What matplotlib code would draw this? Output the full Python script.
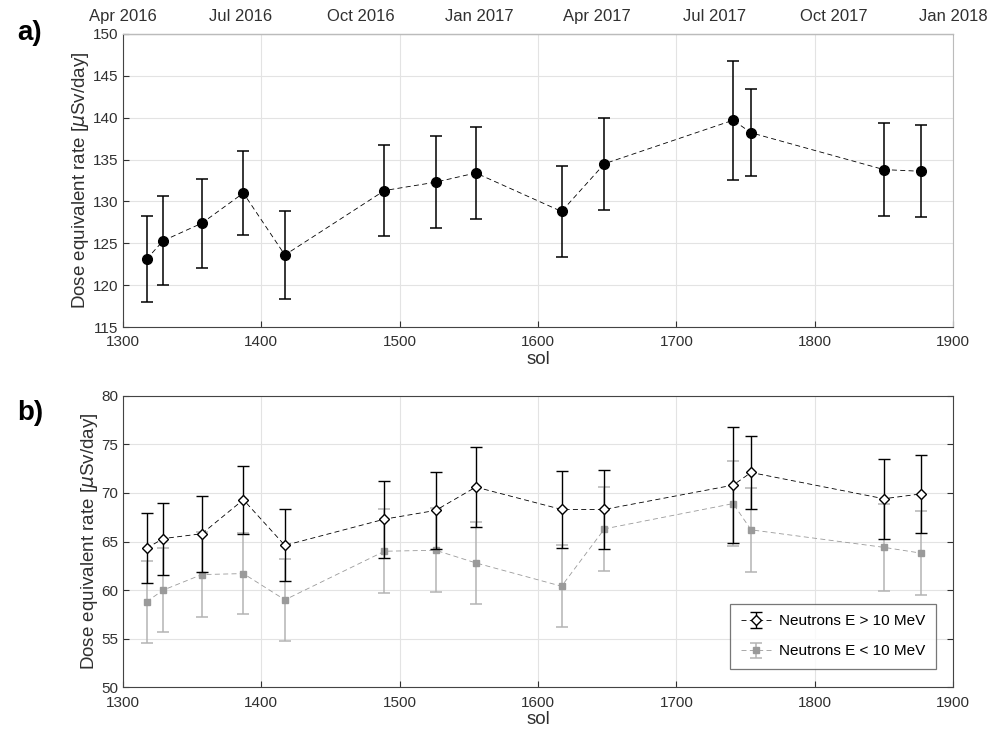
import numpy as np
import matplotlib
matplotlib.use("Agg")
import matplotlib.pyplot as plt
import matplotlib.dates as mdates
from datetime import datetime

plt.rcParams['font.family'] = ['Liberation Sans', 'DejaVu Sans']

# sol of each measurement
sol = [1317, 1329, 1357, 1387, 1417, 1489, 1526, 1555, 1617, 1648, 1741, 1754, 1850, 1877]

# panel a: total dose equivalent rate
dose = [123.1, 125.3, 127.4, 131.0, 123.6, 131.3, 132.3, 133.4, 128.8, 134.5, 139.7, 138.2, 133.8, 133.6]
dose_err = [5.1, 5.3, 5.3, 5.0, 5.2, 5.4, 5.5, 5.5, 5.4, 5.5, 7.1, 5.2, 5.6, 5.5]

# panel b: neutrons
n_high = [64.3, 65.3, 65.8, 69.3, 64.6, 67.3, 68.2, 70.6, 68.3, 68.3, 70.8, 72.1, 69.4, 69.9]
n_high_err = [3.6, 3.7, 3.9, 3.5, 3.7, 3.95, 4.0, 4.1, 4.0, 4.05, 6.0, 3.75, 4.1, 4.05]
n_low = [58.8, 60.0, 61.6, 61.7, 59.0, 64.0, 64.1, 62.8, 60.4, 66.3, 68.9, 66.2, 64.4, 63.8]
n_low_err = [4.2, 4.3, 4.4, 4.2, 4.25, 4.3, 4.3, 4.25, 4.2, 4.3, 4.4, 4.3, 4.45, 4.3]

tick_col = '#303030'
grid_col = '#e3e3e3'

fig = plt.figure(figsize=(10.01, 7.37), dpi=100)
ax1 = fig.add_axes([0.1229, 0.5563, 0.8292, 0.3976])
ax2 = fig.add_axes([0.1229, 0.0674, 0.8292, 0.3957])


def style(ax, ylim, yticks, right=True):
    ax.set_xlim(1300, 1900)
    ax.set_ylim(*ylim)
    ax.set_xticks(np.arange(1300, 1901, 100))
    ax.set_yticks(yticks)
    ax.grid(True, color=grid_col, linewidth=0.8)
    ax.set_axisbelow(True)
    ax.tick_params(direction='in', colors=tick_col, labelsize=11, length=4,
                   right=right, top=False)
    ax.tick_params(axis='x', pad=6)
    for s in ax.spines.values():
        s.set_color('#444444')
        s.set_linewidth(0.8)
    ax.set_xlabel('sol', fontsize=13.5, color=tick_col, labelpad=1)
    ax.set_ylabel(r'Dose equivalent rate [$\mu$Sv/day]', fontsize=13.5, color=tick_col, labelpad=1)


# ---- panel a
ax1.errorbar(sol, dose, yerr=dose_err, fmt='o', color='black', ms=7,
             ecolor='black', elinewidth=1.1, capsize=4, capthick=1.1, zorder=3)
ax1.plot(sol, dose, linestyle=(0, (6, 4)), color='black', linewidth=0.6, zorder=2)
style(ax1, (115, 150), np.arange(115, 151, 5), right=False)
ax1.spines['right'].set_color('#bbbbbb')

top = ax1.twiny()
top.set_xlim(datetime(2016, 4, 1), datetime(2018, 1, 1))
top.xaxis.set_major_locator(mdates.MonthLocator(bymonth=[1, 4, 7, 10]))
top.xaxis.set_major_formatter(mdates.DateFormatter('%b %Y'))
top.tick_params(direction='in', colors=tick_col, labelsize=12, length=0, pad=7)
for s in top.spines.values():
    s.set_visible(False)
top.spines['top'].set_visible(True)
top.spines['top'].set_color('#bbbbbb')
top.spines['top'].set_linewidth(0.8)

# ---- panel b
ax2.errorbar(sol, n_low, yerr=n_low_err, fmt='s', color='#9a9a9a', ms=5,
             ecolor='#b4b4b4', elinewidth=1.1, capsize=4, capthick=1.1,
             linestyle=(0, (6, 4)), linewidth=0.6, zorder=2,
             label='Neutrons E < 10 MeV')
ax2.errorbar(sol, n_high, yerr=n_high_err, fmt='D', mfc='white', mec='black',
             mew=1.0, ms=5.5, color='black', ecolor='black', elinewidth=1.0,
             capsize=4, capthick=1.0, linestyle=(0, (6, 4)), linewidth=0.6,
             zorder=3, label='Neutrons E > 10 MeV')
style(ax2, (50, 80), np.arange(50, 81, 5))
h, l = ax2.get_legend_handles_labels()
leg = ax2.legend(h[::-1], l[::-1], loc='lower right', bbox_to_anchor=(0.989, 0.036),
                 fontsize=11, frameon=True, fancybox=False, borderpad=0.7,
                 handlelength=2.0, handletextpad=0.5, labelspacing=1.05)
leg.get_frame().set_edgecolor('#555555')
leg.get_frame().set_linewidth(0.9)

fig.text(0.017, 0.955, 'a)', fontsize=20, fontweight='bold', va='center')
fig.text(0.017, 0.44, 'b)', fontsize=20, fontweight='bold', va='center')

fig.savefig('out.png', dpi=100)
